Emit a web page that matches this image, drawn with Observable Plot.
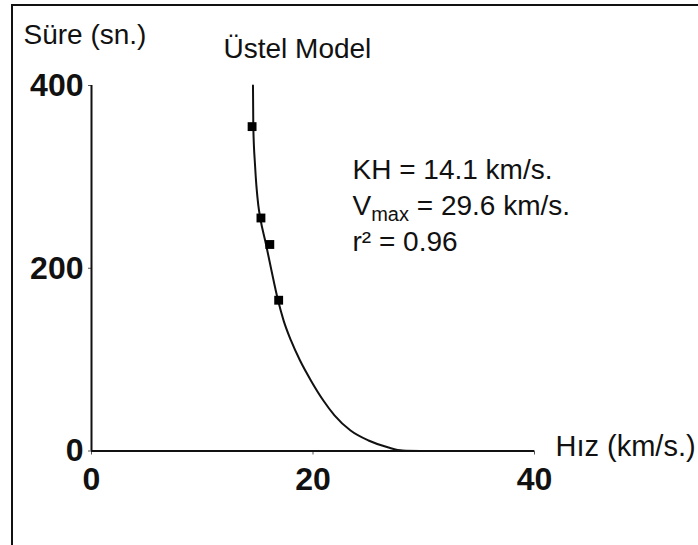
<!DOCTYPE html>
<html>
<head>
<meta charset="utf-8">
<script src="https://cdn.jsdelivr.net/npm/d3@7"></script>
<script src="https://cdn.jsdelivr.net/npm/@observablehq/plot@0.6"></script>
<style>
  html, body { margin: 0; padding: 0; background: #fff; overflow: hidden; }
  #wrap { position: relative; width: 698px; height: 545px; }
  #border { position: absolute; left: 11px; top: 4px; right: -20px; bottom: -20px;
            border-left: 2px solid #111; border-top: 2px solid #111; pointer-events: none; }
  svg { font-family: "Liberation Sans", Arial, sans-serif; }
</style>
</head>
<body>
<div id="wrap"><div id="border"></div></div>
<script>
// Observed speed (km/s) and duration (s) pairs
const speed = [14.5, 15.3, 16.1, 16.9];
const duration = [355, 255, 226, 165];

// Fitted exponential model curve, traced point by point
const curveSpeed = [14.58, 14.61, 14.77, 15.06, 15.23, 15.76, 16.25, 16.82, 17.34, 18.01, 18.83, 19.82, 20.95, 21.94, 23.39, 25.01, 26.82, 28.08, 29.7];
const curveDuration = [400, 355, 312, 269, 255.5, 226, 197.5, 166, 143, 121, 99, 77, 55, 39, 22.4, 11.5, 3.8, 0.5, 0];

const xTicks = [0, 20, 40];
const yTicks = [0, 200, 400];

const title = "Üstel Model";
const yLabel = "Süre (sn.)";
const xLabel = "Hız (km/s.)";
const notes = ["KH = 14.1 km/s.", "Vmax = 29.6 km/s.", "r² = 0.96"];

const points = speed.map((v, i) => ({v, t: duration[i]}));
const curve = curveSpeed.map((v, i) => ({v, t: curveDuration[i]}));

const chart = Plot.plot({
  width: 698,
  height: 545,
  marginLeft: 91,
  marginRight: 164,
  marginTop: 85,
  marginBottom: 94.5,
  x: {domain: [0, 40]},
  y: {domain: [0, 400]},
  marks: [
    Plot.axisX({ticks: xTicks, tickSize: 4, tickPadding: 12, fontSize: 32, fontWeight: "bold",
                label: null, stroke: "#555", fill: "#111"}),
    Plot.axisY({ticks: yTicks, tickSize: 3, tickPadding: 5, fontSize: 32, fontWeight: "bold",
                label: null, stroke: "#555", fill: "#111"}),
    Plot.ruleY([0], {stroke: "#111", strokeWidth: 2}),
    Plot.ruleX([0], {stroke: "#111", strokeWidth: 2}),
    Plot.line(curve, {x: "v", y: "t", stroke: "#111", strokeWidth: 2, curve: "monotone-x"}),
    Plot.dot(points, {x: "v", y: "t", symbol: "square", r: 5, fill: "#000", stroke: "none"}),
    Plot.text([yLabel], {frameAnchor: "top-left", text: d => d, dx: -68, dy: -42,
                         textAnchor: "start", lineAnchor: "bottom", fontSize: 28, fill: "#111"}),
    Plot.text([title], {frameAnchor: "top-left", text: d => d, dx: 132, dy: -28,
                        textAnchor: "start", lineAnchor: "bottom", fontSize: 28, fill: "#111"}),
    Plot.text([xLabel], {frameAnchor: "bottom-right", text: d => d, dx: 21, dy: 4.5,
                         textAnchor: "start", lineAnchor: "bottom", fontSize: 29, fill: "#111"}),
    Plot.text([notes.join("\n")], {frameAnchor: "top-left", text: d => d, dx: 261, dy: 68,
                                   textAnchor: "start", lineAnchor: "top", lineHeight: 1.29,
                                   fontSize: 28, fill: "#111"})
  ]
});

// Render "max" in the V_max line as a subscript
d3.select(chart).selectAll("tspan").each(function() {
  const s = this.textContent;
  if (s.startsWith("Vmax")) {
    const t = d3.select(this).text("V");
    t.append("tspan").attr("font-size", 20).attr("dy", 6).text("max");
    t.append("tspan").attr("dy", -6).text(s.slice(4));
  }
});

document.getElementById("wrap").prepend(chart);
</script>
</body>
</html>
